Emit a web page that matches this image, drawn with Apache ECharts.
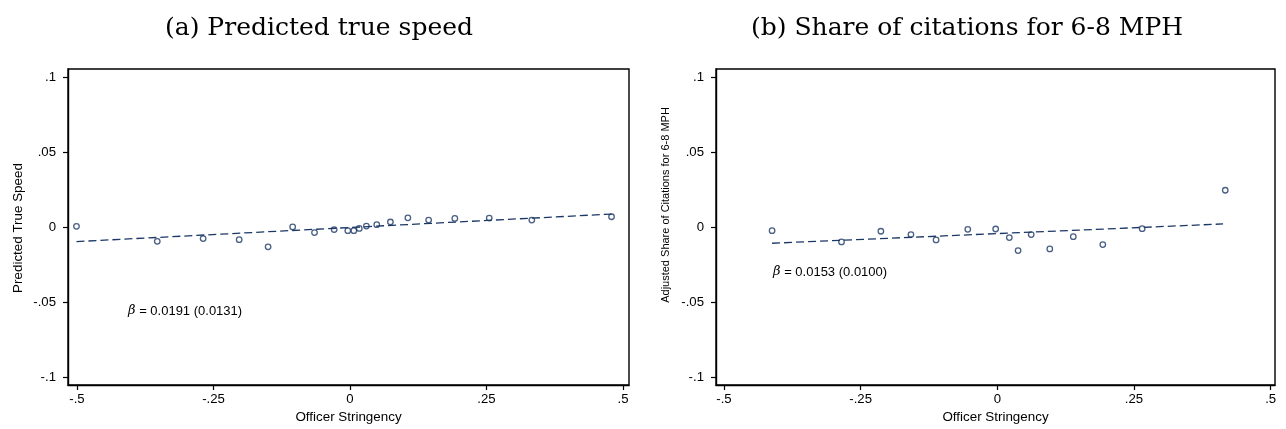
<!DOCTYPE html>
<html><head><meta charset="utf-8">
<script src="https://cdn.jsdelivr.net/npm/echarts@6/dist/echarts.min.js"></script>
<style>html,body{margin:0;padding:0;background:#fff}#c{width:1286px;height:429px}</style>
</head><body><div id="c"></div>
<script>
// ---- data ----
const xTicks = [-0.5, -0.25, 0, 0.25, 0.5];
const yTicks = [-0.1, -0.05, 0, 0.05, 0.1];

const panelTitles = ['(a) Predicted true speed', '(b) Share of citations for 6-8 MPH'];
const yTitles = ['Predicted True Speed', 'Adjusted Share of Citations for 6-8 MPH'];
const xTitle = 'Officer Stringency';
const betaTexts = ['0.0191 (0.0131)', '0.0153 (0.0100)'];

// (a) binned scatter
const speedX = [-0.501, -0.353, -0.269, -0.203, -0.150, -0.105, -0.065, -0.029, -0.004, 0.007,
                0.017, 0.030, 0.049, 0.074, 0.106, 0.144, 0.192, 0.255, 0.333, 0.479];
const speedY = [0.0007, -0.0093, -0.0075, -0.0082, -0.0130, 0.0003, -0.0035, -0.0015, -0.0022, -0.0022,
                -0.0007, 0.0009, 0.0018, 0.0036, 0.0064, 0.0049, 0.0060, 0.0062, 0.0049, 0.0071];
const speedFitX = [-0.501, 0.479];
const speedFitY = [-0.0095, 0.0089];

// (b) binned scatter
const shareX = [-0.412, -0.285, -0.213, -0.158, -0.112, -0.054, -0.003, 0.022, 0.038, 0.062,
                0.096, 0.139, 0.193, 0.265, 0.417];
const shareY = [-0.0022, -0.0097, -0.0026, -0.0048, -0.0084, -0.0013, -0.0011, -0.0068, -0.0155, -0.0048,
                -0.0144, -0.0062, -0.0115, -0.0009, 0.0248];
const shareFitX = [-0.412, 0.413];
const shareFitY = [-0.0106, 0.0023];

// ---- chart ----
const SANS = 'Liberation Sans, Arial, Helvetica, sans-serif';
const SERIF = 'DejaVu Serif, serif';
const NAVY = '#1b3765';

function fmt(v) {
  if (Math.abs(v) < 1e-12) return '0';
  return String(+v.toFixed(4)).replace(/^(-?)0\./, '$1.');
}
function pairs(xs, ys) { return xs.map((x, i) => [x, ys[i]]); }

const grids = [
  { left: 68, right: 657, top: 69, bottom: 42 },
  { left: 716, right: 11, top: 69, bottom: 42 }
];
const xRanges = [[-0.5165, 0.511], [-0.5146, 0.508]];
const yRange = [-0.1053, 0.1058];

function xAxis(i) {
  return {
    type: 'value', gridIndex: i, min: xRanges[i][0], max: xRanges[i][1],
    name: xTitle, nameLocation: 'middle', nameGap: 26,
    nameTextStyle: { fontFamily: SANS, fontSize: 13.4, color: '#000' },
    axisLine: { show: true, onZero: false, lineStyle: { color: '#000', width: 1.4 } },
    axisTick: { show: true, customValues: xTicks, length: 5, lineStyle: { color: '#000', width: 1.2 } },
    axisLabel: { customValues: xTicks, formatter: fmt, margin: 8, fontSize: 13.2, color: '#000', fontFamily: SANS },
    splitLine: { show: false }
  };
}
function yAxis(i) {
  return {
    type: 'value', gridIndex: i, min: yRange[0], max: yRange[1],
    axisLine: { show: true, onZero: false, lineStyle: { color: '#000', width: 1.4 } },
    axisTick: { show: true, customValues: yTicks, length: 5, lineStyle: { color: '#000', width: 1.2 } },
    axisLabel: { customValues: yTicks, formatter: fmt, margin: 12, fontSize: 13.2, color: '#000', fontFamily: SANS },
    splitLine: { show: false }
  };
}
function scatter(i, xs, ys) {
  return {
    type: 'scatter', xAxisIndex: i, yAxisIndex: i, data: pairs(xs, ys),
    symbol: 'circle', symbolSize: 5.5,
    itemStyle: { color: 'rgba(255,255,255,0)', borderColor: NAVY, borderWidth: 1.3 },
    z: 3
  };
}
function fit(i, xs, ys) {
  return {
    type: 'line', xAxisIndex: i, yAxisIndex: i, data: pairs(xs, ys),
    symbol: 'none', lineStyle: { color: NAVY, width: 1.3, type: [8, 4] }, z: 2
  };
}

const chart = echarts.init(document.getElementById('c'), null, { renderer: 'canvas' });
chart.setOption({
  animation: false,
  backgroundColor: '#fff',
  grid: grids.map(g => Object.assign({ show: true, borderColor: '#000', borderWidth: 1.4, backgroundColor: 'transparent' }, g)),
  xAxis: [xAxis(0), xAxis(1)],
  yAxis: [yAxis(0), yAxis(1)],
  series: [
    fit(0, speedFitX, speedFitY), scatter(0, speedX, speedY),
    fit(1, shareFitX, shareFitY), scatter(1, shareX, shareY)
  ],
  graphic: [
    { type: 'text', x: 319, y: 28, style: { text: panelTitles[0], font: '25px ' + SERIF, fill: '#000', align: 'center', verticalAlign: 'middle' } },
    { type: 'text', x: 967, y: 28, style: { text: panelTitles[1], font: '25px ' + SERIF, fill: '#000', align: 'center', verticalAlign: 'middle' } },
    { type: 'text', x: 18.5, y: 228, rotation: Math.PI / 2, style: { text: yTitles[0], fontFamily: SANS, fontSize: 13.4, fill: '#000', align: 'center', verticalAlign: 'middle' } },
    { type: 'text', x: 666, y: 205, rotation: Math.PI / 2, style: { text: yTitles[1], fontFamily: SANS, fontSize: 11, fill: '#000', align: 'center', verticalAlign: 'middle' } },
    { type: 'text', x: 128, y: 311, style: { text: '{b|β} = ' + betaTexts[0], fontFamily: SANS, fontSize: 13, fill: '#000', align: 'left', verticalAlign: 'middle',
        rich: { b: { fontFamily: SERIF, fontStyle: 'italic', fontSize: 13, fill: '#000' } } } },
    { type: 'text', x: 773, y: 272, style: { text: '{b|β} = ' + betaTexts[1], fontFamily: SANS, fontSize: 13, fill: '#000', align: 'left', verticalAlign: 'middle',
        rich: { b: { fontFamily: SERIF, fontStyle: 'italic', fontSize: 13, fill: '#000' } } } }
  ]
});
</script></body></html>
